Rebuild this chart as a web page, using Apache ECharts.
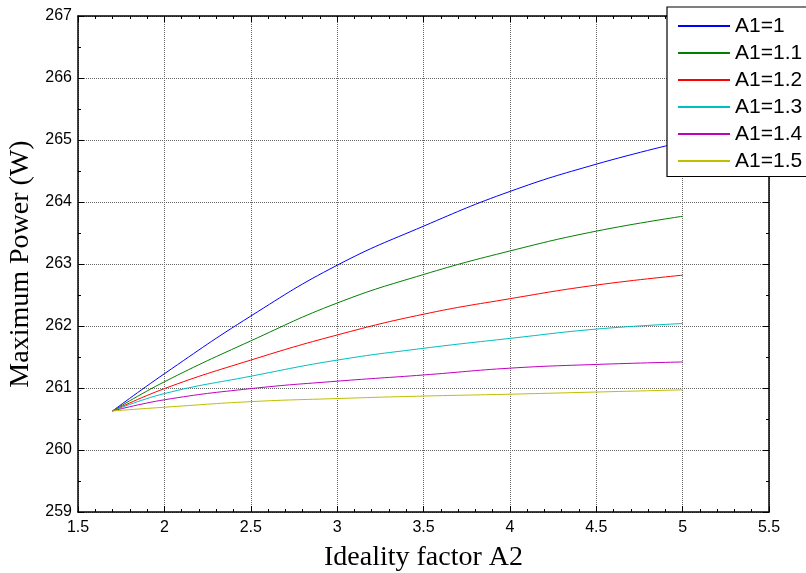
<!DOCTYPE html>
<html>
<head>
<meta charset="utf-8">
<script src="https://cdn.jsdelivr.net/npm/echarts@6/dist/echarts.min.js"></script>
<style>
  html, body { margin: 0; padding: 0; background: #fff; }
  #chart { width: 806px; height: 573px; }
</style>
</head>
<body>
<div id="chart"></div>
<script>
// Ideality factor A2 sampled along each curve
const a2Values = [1.7, 2, 2.5, 3, 3.5, 4, 4.5, 5];

// Maximum power (W) for each value of A1
const powerA1_10 = [260.63, 261.23, 262.16, 262.98, 263.61, 264.17, 264.61, 264.97];
const powerA1_11 = [260.63, 261.10, 261.76, 262.37, 262.83, 263.21, 263.53, 263.77];
const powerA1_12 = [260.63, 260.99, 261.45, 261.855, 262.19, 262.44, 262.66, 262.82];
const powerA1_13 = [260.63, 260.91, 261.19, 261.45, 261.64, 261.80, 261.95, 262.04];
const powerA1_14 = [260.63, 260.81, 260.99, 261.11, 261.21, 261.32, 261.38, 261.42];
const powerA1_15 = [260.63, 260.69, 260.78, 260.83, 260.87, 260.90, 260.935, 260.97];

const seriesNames = ['A1=1', 'A1=1.1', 'A1=1.2', 'A1=1.3', 'A1=1.4', 'A1=1.5'];
const seriesValues = [powerA1_10, powerA1_11, powerA1_12, powerA1_13, powerA1_14, powerA1_15];
const seriesColors = ['#0000ff', '#008000', '#ff0000', '#00bfbf', '#bf00bf', '#bfbf00'];

const chart = echarts.init(document.getElementById('chart'), null, { renderer: 'canvas' });

const axisLine = { show: true, onZero: false, lineStyle: { color: '#000', width: 1.5 } };
const gridLine = { show: true, lineStyle: { color: '#666', type: 'dotted', width: 1 } };
const tickLabel = { color: '#000', fontFamily: 'Liberation Sans, Arial, sans-serif', fontSize: 16 };

function mirrorAxis(base, position, split) {
  return Object.assign({}, base, {
    position: position,
    name: '',
    axisLabel: { show: false },
    splitLine: { show: false },
    axisTick: { show: true, inside: true, length: 6, lineStyle: { color: '#000' } },
    minorTick: { show: true, splitNumber: split, length: 3, lineStyle: { color: '#000' } }
  });
}

const xBase = {
  type: 'value', min: 1.5, max: 5.5, interval: 0.5,
  axisLine: axisLine
};
const yBase = {
  type: 'value', min: 259, max: 267, interval: 1,
  axisLine: axisLine
};

chart.setOption({
  animation: false,
  backgroundColor: '#fff',
  grid: { left: 78, right: 37, top: 16, bottom: 61, containLabel: false, outerBoundsMode: 'none' },
  xAxis: [
    Object.assign({}, xBase, {
      position: 'bottom',
      name: 'Ideality factor A2',
      nameLocation: 'middle',
      nameGap: 32,
      nameTextStyle: { color: '#000', fontFamily: 'Liberation Serif, Times New Roman, serif', fontSize: 28 },
      axisLabel: Object.assign({ margin: 8, formatter: v => String(v) }, tickLabel),
      axisTick: { show: true, inside: true, length: 6, lineStyle: { color: '#000' } },
      minorTick: { show: true, splitNumber: 5, length: 3, lineStyle: { color: '#000' } },
      splitLine: gridLine
    }),
    mirrorAxis(xBase, 'top', 5)
  ],
  yAxis: [
    Object.assign({}, yBase, {
      position: 'left',
      name: 'Maximum Power (W)',
      nameLocation: 'middle',
      nameGap: 38,
      nameTextStyle: { color: '#000', fontFamily: 'Liberation Serif, Times New Roman, serif', fontSize: 28 },
      axisLabel: Object.assign({ margin: 6 }, tickLabel),
      axisTick: { show: true, inside: true, length: 6, lineStyle: { color: '#000' } },
      minorTick: { show: true, splitNumber: 2, length: 3, lineStyle: { color: '#000' } },
      splitLine: gridLine
    }),
    mirrorAxis(yBase, 'right', 2)
  ],
  legend: {
    left: 667,
    top: 7,
    orient: 'vertical',
    backgroundColor: '#fff',
    borderColor: '#000',
    borderWidth: 1.2,
    borderRadius: 0,
    padding: [8.5, 30, 5, 11],
    itemGap: 6,
    itemWidth: 52,
    itemHeight: 2,
    icon: 'rect',
    textStyle: { color: '#000', fontFamily: 'Liberation Sans, Arial, sans-serif', fontSize: 21, lineHeight: 21 },
    data: seriesNames
  },
  series: seriesNames.map((name, i) => ({
    name: name,
    type: 'line',
    xAxisIndex: 0,
    yAxisIndex: 0,
    showSymbol: false,
    smooth: 0.45,
    color: seriesColors[i],
    lineStyle: { width: 1, color: seriesColors[i] },
    data: a2Values.map((x, j) => [x, seriesValues[i][j]])
  }))
});
</script>
</body>
</html>
